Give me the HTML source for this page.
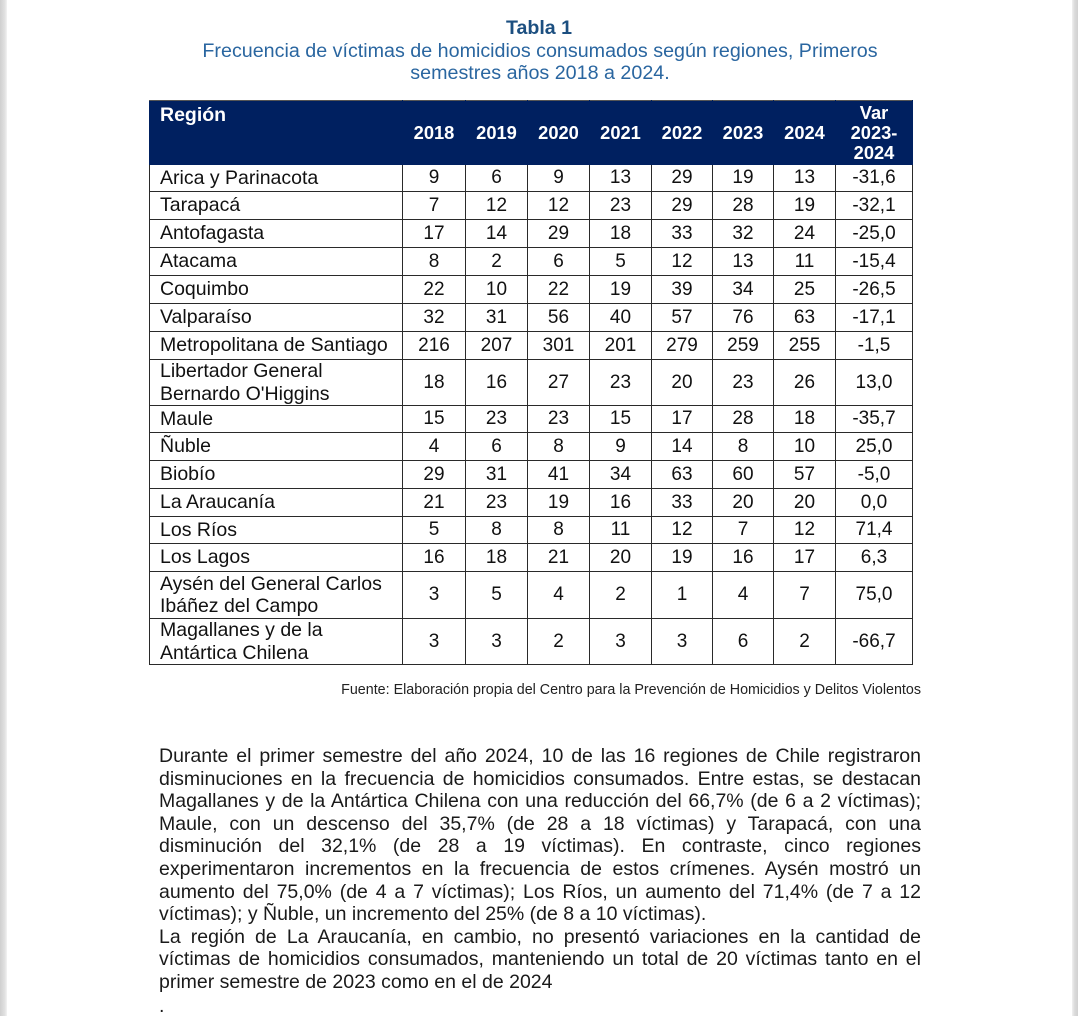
<!DOCTYPE html>
<html>
<head>
<meta charset="utf-8">
<style>
  html, body { margin:0; padding:0; }
  body { width:1078px; height:1016px; position:relative; background:#fff; overflow:hidden;
         font-family:"Liberation Sans", Arial, sans-serif; color:#1a1a1a; }
  .edgeL { position:absolute; left:0; top:0; width:7px; height:1016px;
           background:linear-gradient(to right,#cfcfcf,#e2e2e2 70%,#f3f3f3); }
  .edgeR { position:absolute; left:1072px; top:0; width:6px; height:1016px;
           background:linear-gradient(to right,#f0f0f0,#dcdcdc 40%,#d0d0d0); }
  .title { position:absolute; left:0; width:1078px; top:17px; text-align:center;
           font-weight:bold; font-size:19.6px; line-height:22px; color:#1c4f80; }
  .sub { position:absolute; left:0; width:1080px; text-align:center; font-size:19.7px;
         line-height:21.8px; color:#2a66a0; white-space:nowrap; }
  table { position:absolute; left:149px; top:100px; border-collapse:collapse;
          table-layout:fixed; width:763px; }
  td, th { border:1px solid #2a2a2a; padding:0; font-size:19px; text-align:center;
           vertical-align:middle; color:#111; }
  td.r { text-align:left; padding-left:10px; font-size:19.5px; line-height:22.5px; }
  thead th { background:#002060; color:#fff; font-weight:bold; font-size:18.3px;
             border-color:#002060; border-top:1px solid #555; }
  thead th.reg { text-align:left; vertical-align:top; padding-left:10px; padding-top:3px;
                 font-size:19.5px; }
  thead th.var { line-height:20px; border-left:1px solid #b8c0d8; }
  .src { position:absolute; right:157px; top:682px; font-size:14.3px; line-height:17px;
         color:#222; white-space:nowrap; }
  .p { position:absolute; left:159px; width:762px; font-size:19.5px; line-height:22.6px;
       color:#1a1a1a; text-align:justify; text-align-last:justify; }
  .p.l { text-align:left; text-align-last:left; }
</style>
</head>
<body>
<div class="edgeL"></div>
<div class="edgeR"></div>

<div class="title">Tabla 1</div>
<div class="sub" style="top:41px;">Frecuencia de víctimas de homicidios consumados según regiones, Primeros</div>
<div class="sub" style="top:63px;">semestres años 2018 a 2024.</div>

<table>
  <colgroup>
    <col style="width:253px"><col style="width:63px"><col style="width:62px"><col style="width:62px">
    <col style="width:62px"><col style="width:61px"><col style="width:61px"><col style="width:62px"><col style="width:77px">
  </colgroup>
  <thead>
    <tr style="height:64px;">
      <th class="reg">Región</th>
      <th>2018</th><th>2019</th><th>2020</th><th>2021</th><th>2022</th><th>2023</th><th>2024</th>
      <th class="var">Var<br>2023-<br>2024</th>
    </tr>
  </thead>
  <tbody>
    <tr style="height:27px;"><td class="r">Arica y Parinacota</td><td>9</td><td>6</td><td>9</td><td>13</td><td>29</td><td>19</td><td>13</td><td>-31,6</td></tr>
    <tr style="height:28px;"><td class="r">Tarapacá</td><td>7</td><td>12</td><td>12</td><td>23</td><td>29</td><td>28</td><td>19</td><td>-32,1</td></tr>
    <tr style="height:28px;"><td class="r">Antofagasta</td><td>17</td><td>14</td><td>29</td><td>18</td><td>33</td><td>32</td><td>24</td><td>-25,0</td></tr>
    <tr style="height:28px;"><td class="r">Atacama</td><td>8</td><td>2</td><td>6</td><td>5</td><td>12</td><td>13</td><td>11</td><td>-15,4</td></tr>
    <tr style="height:28px;"><td class="r">Coquimbo</td><td>22</td><td>10</td><td>22</td><td>19</td><td>39</td><td>34</td><td>25</td><td>-26,5</td></tr>
    <tr style="height:28px;"><td class="r">Valparaíso</td><td>32</td><td>31</td><td>56</td><td>40</td><td>57</td><td>76</td><td>63</td><td>-17,1</td></tr>
    <tr style="height:28px;"><td class="r">Metropolitana de Santiago</td><td>216</td><td>207</td><td>301</td><td>201</td><td>279</td><td>259</td><td>255</td><td>-1,5</td></tr>
    <tr style="height:46px;"><td class="r">Libertador General<br>Bernardo O'Higgins</td><td>18</td><td>16</td><td>27</td><td>23</td><td>20</td><td>23</td><td>26</td><td>13,0</td></tr>
    <tr style="height:27px;"><td class="r">Maule</td><td>15</td><td>23</td><td>23</td><td>15</td><td>17</td><td>28</td><td>18</td><td>-35,7</td></tr>
    <tr style="height:28px;"><td class="r">Ñuble</td><td>4</td><td>6</td><td>8</td><td>9</td><td>14</td><td>8</td><td>10</td><td>25,0</td></tr>
    <tr style="height:28px;"><td class="r">Biobío</td><td>29</td><td>31</td><td>41</td><td>34</td><td>63</td><td>60</td><td>57</td><td>-5,0</td></tr>
    <tr style="height:28px;"><td class="r">La Araucanía</td><td>21</td><td>23</td><td>19</td><td>16</td><td>33</td><td>20</td><td>20</td><td>0,0</td></tr>
    <tr style="height:27px;"><td class="r">Los Ríos</td><td>5</td><td>8</td><td>8</td><td>11</td><td>12</td><td>7</td><td>12</td><td>71,4</td></tr>
    <tr style="height:28px;"><td class="r">Los Lagos</td><td>16</td><td>18</td><td>21</td><td>20</td><td>19</td><td>16</td><td>17</td><td>6,3</td></tr>
    <tr style="height:47px;"><td class="r">Aysén del General Carlos<br>Ibáñez del Campo</td><td>3</td><td>5</td><td>4</td><td>2</td><td>1</td><td>4</td><td>7</td><td>75,0</td></tr>
    <tr style="height:46px;"><td class="r">Magallanes y de la<br>Antártica Chilena</td><td>3</td><td>3</td><td>2</td><td>3</td><td>3</td><td>6</td><td>2</td><td>-66,7</td></tr>
  </tbody>
</table>

<div class="src">Fuente: Elaboración propia del Centro para la Prevención de Homicidios y Delitos Violentos</div>

<div class="p" style="top:745px;">Durante el primer semestre del año 2024, 10 de las 16 regiones de Chile registraron</div>
<div class="p" style="top:767.6px;">disminuciones en la frecuencia de homicidios consumados. Entre estas, se destacan</div>
<div class="p" style="top:790.2px;">Magallanes y de la Antártica Chilena con una reducción del 66,7% (de 6 a 2 víctimas);</div>
<div class="p" style="top:812.8px;">Maule, con un descenso del 35,7% (de 28 a 18 víctimas) y Tarapacá, con una</div>
<div class="p" style="top:835.4px;">disminución del 32,1% (de 28 a 19 víctimas). En contraste, cinco regiones</div>
<div class="p" style="top:858px;">experimentaron incrementos en la frecuencia de estos crímenes. Aysén mostró un</div>
<div class="p" style="top:880.6px;">aumento del 75,0% (de 4 a 7 víctimas); Los Ríos, un aumento del 71,4% (de 7 a 12</div>
<div class="p l" style="top:903.2px;">víctimas); y Ñuble, un incremento del 25% (de 8 a 10 víctimas).</div>
<div class="p" style="top:925.8px;">La región de La Araucanía, en cambio, no presentó variaciones en la cantidad de</div>
<div class="p" style="top:948.4px;">víctimas de homicidios consumados, manteniendo un total de 20 víctimas tanto en el</div>
<div class="p l" style="top:971px;">primer semestre de 2023 como en el de 2024</div>
<div class="p l" style="top:994.6px;">.</div>
</body>
</html>
